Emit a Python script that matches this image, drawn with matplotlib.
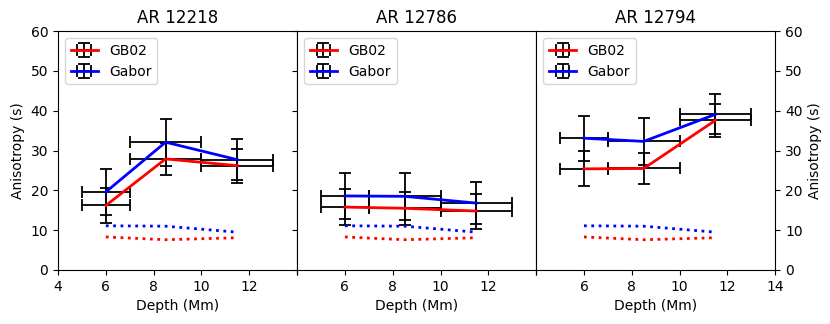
import matplotlib as mpl
from matplotlib import pyplot as plt
import numpy as np

mpl.rcParams.update({'font.size': 10})

depth = [6, 8.5, 11.5]
depth_err = [[1, 1.5, 1.5], [1, 1.5, 1.5]]

regions = ['AR 12218', 'AR 12786', 'AR 12794']

gb02 = [[16.2, 27.9, 26.2],
        [15.8, 15.5, 14.8],
        [25.4, 25.5, 37.6]]
gb02_err = [[4.3, 4.0, 4.3],
            [4.5, 4.2, 4.4],
            [4.4, 4.0, 4.2]]
gabor = [[19.6, 32.1, 27.7],
         [18.6, 18.5, 16.8],
         [33.1, 32.3, 39.1]]
gabor_err = [[5.7, 5.9, 5.1],
             [5.8, 5.9, 5.2],
             [5.6, 5.9, 5.0]]

# noise levels (dotted)
gb02_noise = [8.3, 7.6, 8.1]
gabor_noise = [11.1, 11.0, 9.5]

x_ticks = [4, 6, 8, 10, 12, 14]


def plot_panel(ax, i):
    ax.errorbar(depth, gb02[i], xerr=depth_err, yerr=gb02_err[i], color='red',
                ecolor='black', capsize=4, lw=2, elinewidth=1.3, capthick=1.3,
                label='GB02')
    ax.errorbar(depth, gabor[i], xerr=depth_err, yerr=gabor_err[i], color='blue',
                ecolor='black', capsize=4, lw=2, elinewidth=1.3, capthick=1.3,
                label='Gabor')
    ax.plot(depth, gb02_noise, ':', color='red', lw=2)
    ax.plot(depth, gabor_noise, ':', color='blue', lw=2)

    ax.set_xlim(4, 14)
    ax.set_ylim(0, 60)
    ax.set_xticks(x_ticks)
    ax.set_yticks(np.arange(0, 61, 10))
    ax.set_title(regions[i], fontsize=12)
    ax.set_xlabel('Depth (Mm)')
    ax.legend(loc='upper left')


fig = plt.figure(figsize=(8.3, 3.24), dpi=100)
axes = fig.subplots(1, 3)
fig.subplots_adjust(left=0.0699, right=0.934, bottom=0.1667, top=0.904, wspace=0)

for i, ax in enumerate(axes):
    plot_panel(ax, i)

axes[0].set_xticklabels(['4', '6', '8', '10', '12', ''])
axes[0].set_ylabel('Anisotropy (s)')

axes[1].set_xticklabels(['', '6', '8', '10', '12', ''])
axes[1].tick_params(axis='y', labelleft=False)

axes[2].set_xticklabels(['', '6', '8', '10', '12', '14'])
axes[2].yaxis.tick_right()
axes[2].yaxis.set_label_position('right')
axes[2].set_ylabel('Anisotropy (s)')

fig.savefig('out.png', dpi=100)
